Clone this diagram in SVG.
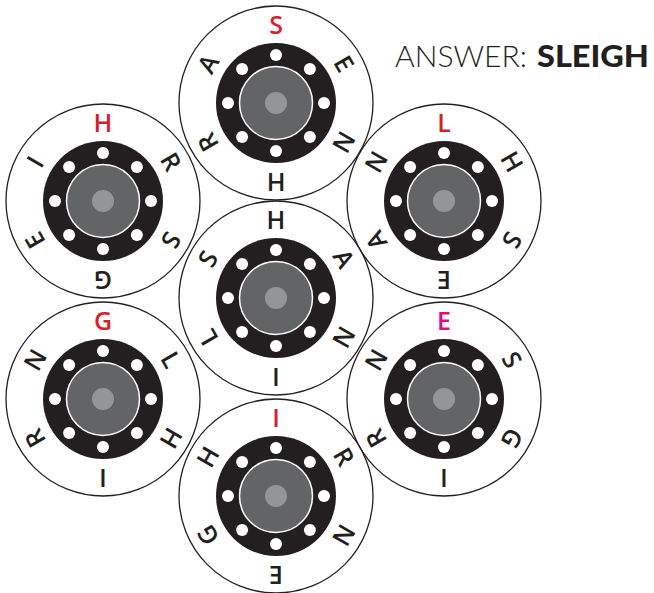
<svg xmlns="http://www.w3.org/2000/svg" xmlns:xlink="http://www.w3.org/1999/xlink" width="654" height="593" viewBox="0 0 654 593">
<style>
.ring{fill:none;stroke:#231f20;stroke-width:1.3}
.lt{font-family:"Open Sans","Lato",sans-serif;font-weight:600;font-size:25px;fill:#231f20;text-anchor:middle}
.red{fill:#d71f2b}
.mag{fill:#e5097f}
.ans{font-family:"Lato","Open Sans",sans-serif;font-size:30px;fill:#231f20}
</style>
<defs>
<g id="hub">
<circle r="60" fill="#231f20"/>
<circle r="36.5" fill="#636466" stroke="#fff" stroke-width="1.5"/>
<circle r="11" fill="#939598"/>
<circle cx="0" cy="-48" r="6" fill="#fff"/>
<circle cx="0" cy="48" r="6" fill="#fff"/>
<circle cx="-48" cy="0" r="6" fill="#fff"/>
<circle cx="48" cy="0" r="6" fill="#fff"/>
<circle cx="33.9" cy="-33.9" r="6" fill="#fff"/>
<circle cx="-33.9" cy="-33.9" r="6" fill="#fff"/>
<circle cx="33.9" cy="33.9" r="6" fill="#fff"/>
<circle cx="-33.9" cy="33.9" r="6" fill="#fff"/>
</g>
</defs>
<rect width="654" height="593" fill="#fff"/>
<g id="connectors"/>
<g id="node-top" transform="translate(276,103)">
<circle class="ring" r="97"/>
<use xlink:href="#hub"/>
<text class="lt red" y="-69.5">S</text>
<text class="lt" y="-69.5" transform="rotate(60)">E</text>
<text class="lt" y="-69.5" transform="rotate(120)">N</text>
<text class="lt" y="-69.5" transform="rotate(180)">H</text>
<text class="lt" y="-69.5" transform="rotate(240)">R</text>
<text class="lt" y="-69.5" transform="rotate(300)">A</text>
</g>
<g id="node-upper-left" transform="translate(103,201)">
<circle class="ring" r="97"/>
<use xlink:href="#hub"/>
<text class="lt red" y="-69.5">H</text>
<text class="lt" y="-69.5" transform="rotate(60)">R</text>
<text class="lt" y="-69.5" transform="rotate(120)">S</text>
<text class="lt" y="-69.5" transform="rotate(180)">G</text>
<text class="lt" y="-69.5" transform="rotate(240)">E</text>
<text class="lt" y="-69.5" transform="rotate(300)">I</text>
</g>
<g id="node-upper-right" transform="translate(444,201)">
<circle class="ring" r="97"/>
<use xlink:href="#hub"/>
<text class="lt red" y="-69.5">L</text>
<text class="lt" y="-69.5" transform="rotate(60)">H</text>
<text class="lt" y="-69.5" transform="rotate(120)">S</text>
<text class="lt" y="-69.5" transform="rotate(180)">E</text>
<text class="lt" y="-69.5" transform="rotate(240)">A</text>
<text class="lt" y="-69.5" transform="rotate(300)">N</text>
</g>
<g id="node-center" transform="translate(276,298)">
<circle class="ring" r="97"/>
<use xlink:href="#hub"/>
<text class="lt" y="-69.5">H</text>
<text class="lt" y="-69.5" transform="rotate(60)">A</text>
<text class="lt" y="-69.5" transform="rotate(120)">N</text>
<text class="lt" y="-69.5" transform="rotate(180)">I</text>
<text class="lt" y="-69.5" transform="rotate(240)">L</text>
<text class="lt" y="-69.5" transform="rotate(300)">S</text>
</g>
<g id="node-lower-left" transform="translate(103,399)">
<circle class="ring" r="97"/>
<use xlink:href="#hub"/>
<text class="lt red" y="-69.5">G</text>
<text class="lt" y="-69.5" transform="rotate(60)">L</text>
<text class="lt" y="-69.5" transform="rotate(120)">H</text>
<text class="lt" y="-69.5" transform="rotate(180)">I</text>
<text class="lt" y="-69.5" transform="rotate(240)">R</text>
<text class="lt" y="-69.5" transform="rotate(300)">N</text>
</g>
<g id="node-lower-right" transform="translate(444,399)">
<circle class="ring" r="97"/>
<use xlink:href="#hub"/>
<text class="lt mag" y="-69.5">E</text>
<text class="lt" y="-69.5" transform="rotate(60)">S</text>
<text class="lt" y="-69.5" transform="rotate(120)">G</text>
<text class="lt" y="-69.5" transform="rotate(180)">I</text>
<text class="lt" y="-69.5" transform="rotate(240)">R</text>
<text class="lt" y="-69.5" transform="rotate(300)">N</text>
</g>
<g id="node-bottom" transform="translate(276,496)">
<circle class="ring" r="97"/>
<use xlink:href="#hub"/>
<text class="lt red" y="-69.5">I</text>
<text class="lt" y="-69.5" transform="rotate(60)">R</text>
<text class="lt" y="-69.5" transform="rotate(120)">N</text>
<text class="lt" y="-69.5" transform="rotate(180)">E</text>
<text class="lt" y="-69.5" transform="rotate(240)">G</text>
<text class="lt" y="-69.5" transform="rotate(300)">H</text>
</g>
<g id="answer">
<text class="ans" x="395" y="67" font-weight="300" textLength="132" lengthAdjust="spacingAndGlyphs">ANSWER:</text>
<text class="ans" x="537" y="67" font-weight="900" textLength="112" lengthAdjust="spacingAndGlyphs">SLEIGH</text>
</g>
</svg>
